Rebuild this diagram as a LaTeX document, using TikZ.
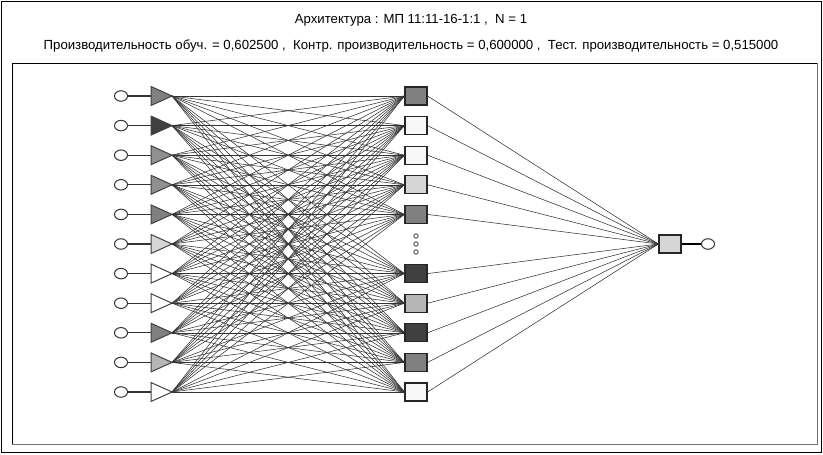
\documentclass[tikz,border=0pt]{standalone}
\usepackage{fontspec}
\setmainfont{Liberation Sans}
\usetikzlibrary{shapes.geometric,positioning}
\definecolor{dark}{HTML}{404040}
\definecolor{mid}{HTML}{808080}
\definecolor{midl}{HTML}{909090}
\definecolor{lite}{HTML}{B6B6B6}
\definecolor{pale}{HTML}{D6D6D6}
\definecolor{snow}{HTML}{F8F8F8}

\begin{document}
\begin{tikzpicture}[x=1pt,y=-1pt,font=\fontsize{13.2}{15}\selectfont,
  inp/.style={draw=black!80,line width=1pt,fill=white,ellipse,minimum width=13pt,minimum height=10.5pt,inner sep=0pt},
  hid/.style={draw=black!85,line width=1.2pt,minimum width=22pt,minimum height=18pt,inner sep=0pt},
  tri/.style={draw=black!75,line width=1pt},
  wire/.style={black!80,line width=.55pt}]
\useasboundingbox(0,0)rectangle(823,455);
\draw[line width=1pt](1.5,1.5)rectangle(821.5,452.5);
\draw[black!55,line width=1pt](12,63)rectangle(817,444);
\draw[line width=1pt](817,63)--(12,63)--(12,444);
\node(arch)at(411,20){Архитектура : МП 11:11-16-1:1 ,\ \ N = 1};
\node(perf)at(411,46){Производительность обуч. = 0,602500 ,\ \ Контр. производительность = 0,600000 ,\ \ Тест. производительность = 0,515000};
% inputs
\foreach \i/\c in {1/mid,2/dark,3/midl,4/midl,5/mid,6/pale,7/white,8/white,9/mid,10/lite,11/white}{
  \pgfmathsetmacro\yy{96+29.6*(\i-1)}
  \node[inp](c\i)at(121,\yy){};
  \coordinate(b\i)at(151,\yy);
  \coordinate(t\i)at(172,\yy);
  \draw[black!80,line width=1.1pt](c\i)--(b\i);
  \filldraw[tri,fill=\c](151,\yy-9.5)--(t\i)--(151,\yy+9.5)--cycle;
}
% hidden layer
\foreach \i/\c in {1/mid,2/snow,3/snow,4/pale,5/mid,7/dark,8/lite,9/dark,10/gray,11/snow}{
  \pgfmathsetmacro\yy{96+29.6*(\i-1)}
  \node[hid,fill=\c](h\i)at(416,\yy){};
}
\foreach \i in {1,...,11}{
  \foreach \j in {1,2,3,4,5,7,8,9,10,11}{
    \draw[wire](t\i)--(h\j.west);
  }
}
\node[hid,fill=pale](o)at(670,244){};
\node[inp](y)at(708,244){};
\draw[black,line width=1.2pt](o)--(y);
\foreach \j in {1,2,3,4,5,7,8,9,10,11}
  \draw[wire](h\j.east)--(o.west);
\foreach \k in {236,244,252}
  \draw[black!60,line width=1pt](416,\k)circle[radius=2.2];
\end{tikzpicture}
\end{document}
